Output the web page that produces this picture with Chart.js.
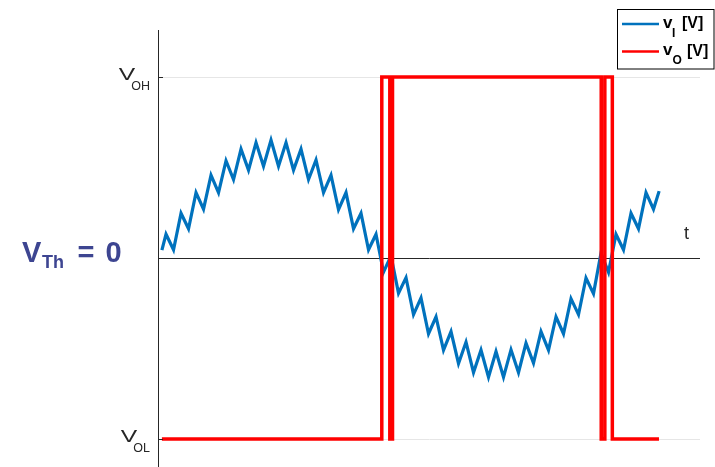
<!DOCTYPE html>
<html>
<head>
<meta charset="utf-8">
<script src="https://cdn.jsdelivr.net/npm/chart.js@4.4.1/dist/chart.umd.min.js"></script>
<style>
  html, body { margin: 0; padding: 0; background: #fff; overflow: hidden; }
  canvas { display: block; }
</style>
</head>
<body>
<canvas id="c" width="715" height="467"></canvas>
<script>
// time in sample steps, voltages in V
const vinT = [0.45, 1, 2, 3, 4, 5, 6, 7, 8, 9, 10, 11, 12, 13, 14, 15, 16, 17, 18, 19, 20,
  21, 22, 23, 24, 25, 26, 27, 28, 29, 30, 31, 32, 33, 34, 35, 36, 37, 38, 39, 40,
  41, 42, 43, 44, 45, 46, 47, 48, 49, 50, 51, 52, 53, 54, 55, 56, 57, 58, 59, 60,
  61, 62, 63, 64, 65, 66, 66.75];
const vinV = [0.22, 0.66, 0.23, 1.24, 0.81, 1.81, 1.35, 2.29, 1.81, 2.69, 2.17,
  3.01, 2.43, 3.19, 2.54, 3.26, 2.54, 3.19, 2.43, 3.01, 2.17,
  2.71, 1.81, 2.29, 1.34, 1.81, 0.81, 1.24, 0.23, 0.66, -0.39,
  0.06, -0.97, -0.54, -1.56, -1.10, -2.09, -1.62, -2.54, -2.03, -2.91,
  -2.32, -3.16, -2.54, -3.29, -2.58, -3.29, -2.53, -3.16, -2.35, -2.90,
  -2.03, -2.54, -1.62, -2.09, -1.12, -1.56, -0.55, -0.98, 0.14, -0.39,
  0.66, 0.23, 1.24, 0.81, 1.81, 1.35, 1.85];

const voutT = [0.45, 29.77, 29.77, 30.84, 30.84, 31.2, 31.2, 59.03, 59.03, 59.51, 59.51, 60.51, 60.51, 66.73];
const voutV = [-5, -5, 5, 5, -5, -5, 5, 5, -5, -5, 5, 5, -5, -5];

const yTickValues = [-5, 0, 5];
const yTickLabels = ['V_OL', '', 'V_OH'];
const seriesNames = ['v_I [V]', 'v_O [V]'];
const seriesColors = ['#0072BD', '#FF0000'];

const FONT = '"Liberation Sans", Arial, sans-serif';

const decorations = {
  id: 'decorations',
  afterDraw(chart) {
    const ctx = chart.ctx;
    const area = chart.chartArea;
    const y = chart.scales.y;
    ctx.save();

    // small inward ticks + V_OH / V_OL labels
    ctx.strokeStyle = '#262626';
    ctx.lineWidth = 1;
    ctx.fillStyle = '#262626';
    yTickValues.forEach((v, i) => {
      const py = Math.round(y.getPixelForValue(v)) + 0.5;
      ctx.beginPath();
      ctx.moveTo(area.left, py);
      ctx.lineTo(area.left + 5, py);
      ctx.stroke();
      const lab = yTickLabels[i];
      if (!lab) return;
      const parts = lab.split('_');
      ctx.font = '12.5px ' + FONT;
      ctx.textAlign = 'right';
      ctx.textBaseline = 'alphabetic';
      ctx.fillText(parts[1], area.left - 8, py + 12);
      const subW = ctx.measureText(parts[1]).width;
      ctx.save();
      ctx.translate(area.left - 8 - subW - 12.5, py + 2);
      ctx.scale(1.45, 1);
      ctx.font = '17px ' + FONT;
      ctx.textAlign = 'left';
      ctx.fillText(parts[0], 0, 0);
      ctx.restore();
    });

    // time label
    const y0 = y.getPixelForValue(0);
    ctx.font = '18px ' + FONT;
    ctx.textAlign = 'left';
    ctx.fillText('t', area.right - 16, y0 - 19);

    // threshold note
    ctx.fillStyle = '#3d4591';
    ctx.font = 'bold 29px ' + FONT;
    ctx.fillText('V', 22, y0 + 4);
    ctx.font = 'bold 18px ' + FONT;
    ctx.fillText('Th', 42, y0 + 10);
    ctx.font = 'bold 29px ' + FONT;
    ctx.textAlign = 'center';
    ctx.fillText('=', 86, y0 + 4);
    ctx.fillText('0', 113.5, y0 + 4);

    // legend
    const bx = 617.5, by = 9.5, bw = 96.5, bh = 59.5;
    ctx.fillStyle = '#fff';
    ctx.fillRect(bx, by, bw, bh);
    ctx.strokeStyle = '#000';
    ctx.lineWidth = 1;
    ctx.strokeRect(bx, by, bw, bh);
    const rows = [24, 51.5];
    const subX = [672, 672.5];
    const restX = [682, 687];
    seriesNames.forEach((name, i) => {
      const ly = rows[i];
      ctx.strokeStyle = seriesColors[i];
      ctx.lineWidth = 2.5;
      ctx.beginPath();
      ctx.moveTo(622, ly);
      ctx.lineTo(659, ly);
      ctx.stroke();
      const m = name.match(/^(\w)_(\w+) (.*)$/);
      ctx.fillStyle = '#000';
      ctx.textAlign = 'left';
      ctx.font = 'bold 17px ' + FONT;
      ctx.fillText(m[1], 663, ly + 3.5);
      ctx.font = 'bold 12px ' + FONT;
      ctx.fillText(m[2], subX[i], ly + 12.5);
      ctx.font = 'bold 16px ' + FONT;
      ctx.fillText(m[3], restX[i], ly + 4);
    });

    ctx.restore();
  }
};

new Chart(document.getElementById('c'), {
  type: 'line',
  data: {
    datasets: [
      {
        label: seriesNames[0],
        data: vinT.map((t, i) => ({ x: t, y: vinV[i] })),
        borderColor: seriesColors[0],
        borderWidth: 3.2,
        pointRadius: 0,
        tension: 0,
        order: 1
      },
      {
        label: seriesNames[1],
        data: voutT.map((t, i) => ({ x: t, y: voutV[i] })),
        borderColor: seriesColors[1],
        borderWidth: 3.5,
        pointRadius: 0,
        tension: 0,
        order: 0
      }
    ]
  },
  options: {
    responsive: false,
    animation: false,
    devicePixelRatio: 1,
    layout: { padding: { left: 158, right: 15, top: 30, bottom: 0 } },
    plugins: { legend: { display: false }, tooltip: { enabled: false } },
    scales: {
      x: {
        type: 'linear',
        min: -0.07,
        max: 72.2,
        display: false
      },
      y: {
        type: 'linear',
        min: -5.77,
        max: 6.3,
        afterBuildTicks: scale => { scale.ticks = yTickValues.map(v => ({ value: v })); },
        ticks: { display: false },
        grid: {
          drawTicks: false,
          color: c => (c.tick && c.tick.value === 0 ? '#262626' : '#e6e6e6'),
          lineWidth: 1
        },
        border: { display: true, color: '#262626', width: 1 }
      }
    }
  },
  plugins: [decorations]
});
</script>
</body>
</html>
